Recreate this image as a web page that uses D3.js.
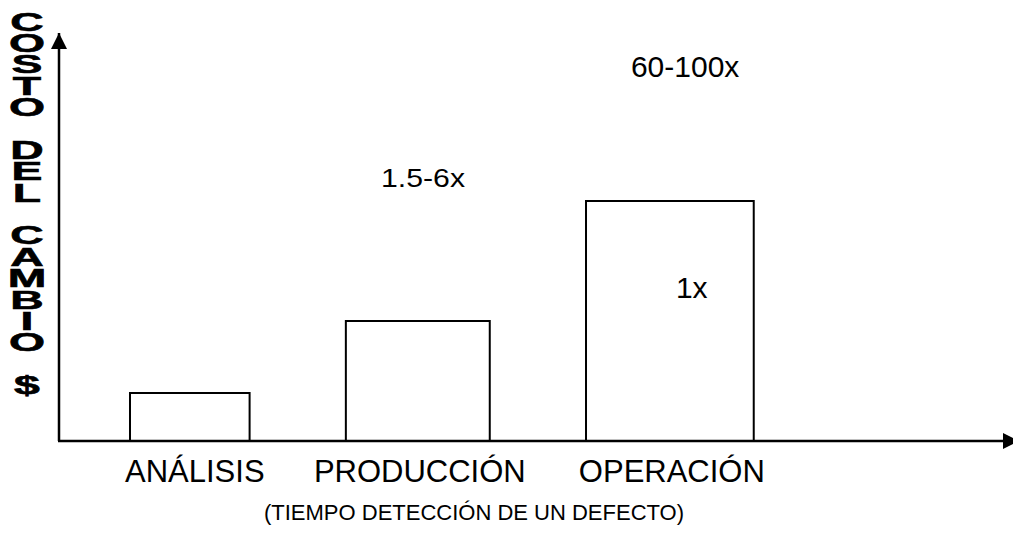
<!DOCTYPE html>
<html lang="es">

<head>
  <meta charset="UTF-8" />
  <title>Costo del cambio</title>
  <script src="https://d3js.org/d3.v7.min.js"></script>
  <style>
    body {
      margin: 0;
      padding: 0;
      background: #fff;
    }

    svg {
      display: block;
      font-family: "Liberation Sans", Arial, sans-serif;
    }
  </style>
</head>

<body>
  <svg width="1013" height="533"></svg>

  <script>
    // etapas donde se detecta el defecto
    const categories = ["ANÁLISIS", "PRODUCCIÓN", "OPERACIÓN"];
    // costo relativo (altura de cada barra)
    const costs = [12, 30, 60];
    // tramo de tiempo que ocupa cada etapa sobre el eje
    const spanStart = [7.45, 30.1, 55.3];
    const spanEnd = [20.0, 45.2, 72.9];

    // anotaciones de factor de costo
    const noteTexts = ["60-100x", "1.5-6x", "1x"];
    const noteX = [65.7, 38.2, 66.4];
    const noteY = [90.9, 63.6, 35.8];

    const yTitle = "COSTO DEL CAMBIO $";
    const xTitle = "(TIEMPO DETECCIÓN DE UN DEFECTO)";

    const svg = d3.select("svg");

    const x = d3.scaleLinear()
      .domain([0, 100])
      .range([59, 1012]);

    const y = d3.scaleLinear()
      .domain([0, 100])
      .range([441, 41]);

    // flechas
    svg.append("defs").append("marker")
      .attr("id", "arrow")
      .attr("viewBox", "0 0 16 16")
      .attr("refX", 16)
      .attr("refY", 8)
      .attr("markerWidth", 16)
      .attr("markerHeight", 16)
      .attr("markerUnits", "userSpaceOnUse")
      .attr("orient", "auto")
      .append("path")
      .attr("d", "M0,0 L16,8 L0,16 Z")
      .attr("fill", "#000");

    // barras
    svg.append("g")
      .selectAll("rect")
      .data(categories)
      .join("rect")
      .attr("x", (d, i) => x(spanStart[i]))
      .attr("y", (d, i) => y(costs[i]))
      .attr("width", (d, i) => x(spanEnd[i]) - x(spanStart[i]))
      .attr("height", (d, i) => y(0) - y(costs[i]))
      .attr("fill", "#fff")
      .attr("stroke", "#000")
      .attr("stroke-width", 2);

    // ejes
    svg.append("line")
      .attr("x1", x(0))
      .attr("y1", y(0))
      .attr("x2", x(0))
      .attr("y2", 33)
      .attr("stroke", "#000")
      .attr("stroke-width", 2.5)
      .attr("marker-end", "url(#arrow)");

    svg.append("line")
      .attr("x1", x(0) - 1)
      .attr("y1", y(0))
      .attr("x2", 1019)
      .attr("y2", y(0))
      .attr("stroke", "#000")
      .attr("stroke-width", 2.5)
      .attr("marker-end", "url(#arrow)");

    // etiquetas de categoría
    svg.append("g")
      .selectAll("text")
      .data(categories)
      .join("text")
      .attr("x", (d, i) => (x(spanStart[i]) + x(spanEnd[i])) / 2 + (i === 0 ? 5 : 2))
      .attr("y", 482)
      .attr("text-anchor", "middle")
      .attr("font-size", 31)
      .attr("fill", "#000")
      .text(d => d);

    // anotaciones
    svg.append("g")
      .selectAll("text")
      .data(noteTexts)
      .join("text")
      .attr("x", (d, i) => x(noteX[i]))
      .attr("y", (d, i) => y(noteY[i]))
      .attr("text-anchor", "middle")
      .attr("font-size", (d, i) => i === 1 ? 26 : 30)
      .attr("textLength", (d, i) => i === 1 ? 84 : null)
      .attr("lengthAdjust", "spacingAndGlyphs")
      .attr("fill", "#000")
      .text(d => d);

    // título del eje x
    svg.append("text")
      .attr("x", 474)
      .attr("y", 520)
      .attr("text-anchor", "middle")
      .attr("font-size", 22)
      .attr("fill", "#000")
      .text(xTitle);

    // título del eje y, letras apiladas en un solo texto
    const yLabel = svg.append("text")
      .attr("transform", "translate(27,30.5) scale(1.75,1)")
      .attr("text-anchor", "middle")
      .attr("font-size", 26.5)
      .attr("font-weight", "bold")
      .attr("fill", "#000")
      .attr("stroke", "#000")
      .attr("stroke-width", 0.6);

    yLabel.selectAll("tspan")
      .data(yTitle.split(""))
      .join("tspan")
      .attr("x", 0)
      .attr("dy", (d, i) => i === 0 ? 0 : 21.4)
      .text(d => d === " " ? "\u00a0" : d);
  </script>
</body>

</html>
